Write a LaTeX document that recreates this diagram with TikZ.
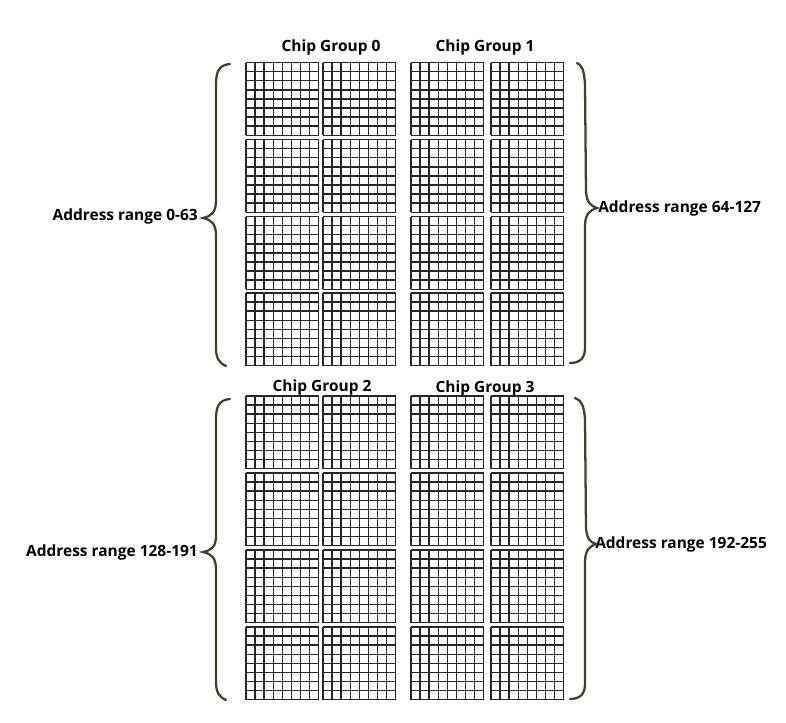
\documentclass[tikz,border=0pt]{standalone}
\usepackage{fontspec}
\setmainfont{Open Sans}
\definecolor{bracketgreen}{HTML}{3A4230}
\tikzset{
  chipline/.style={draw=black!85, line width=1.1pt, x=6.82pt, y=6.82pt},
  bracket/.style={draw=bracketgreen, line width=1.7pt, line cap=round},
  label/.style={font=\bfseries\fontsize{11.6pt}{13pt}\selectfont, inner sep=0pt},
  chip/.pic={\draw[chipline, step=1] (0,-8) grid (8,0);}
}
\begin{document}
\begin{tikzpicture}[x=0.75pt, y=-0.75pt]
    \useasboundingbox (0, 0) rectangle (786, 722);
    \node[label] (group0) at (331, 47) {Chip Group 0};
    \node[label] (group1) at (485, 47) {Chip Group 1};
    \node[label] (group2) at (322, 387) {Chip Group 2};
    \node[label] (group3) at (485, 388) {Chip Group 3};
    \node[label, anchor=east] (range0) at (198, 216) {Address range 0-63};
    \node[label, anchor=west] (range1) at (598, 208) {Address range 64-127};
    \node[label, anchor=east] (range2) at (198, 552) {Address range 128-191};
    \node[label, anchor=west] (range3) at (595, 544) {Address range 192-255};
    \foreach \xpos in {246, 323, 411, 491}
      \foreach \ypos in {62.5, 139.5, 216.5, 293, 396, 473, 550, 627}
        \pic at (\xpos, \ypos) {chip};
    \draw[bracket] (230, 64) .. controls (220, 65) and (216, 70) .. (216, 84)
      -- (216, 200) .. controls (216, 212) and (212, 216) .. (203, 218)
      .. controls (212, 220) and (216, 224) .. (216, 236)
      -- (216, 348) .. controls (216, 358) and (219, 363) .. (226, 366);
    \draw[bracket] (577, 63) .. controls (582, 65) and (584, 70) .. (585, 84)
      -- (586, 192) .. controls (587, 203) and (591, 206) .. (597, 208)
      .. controls (590, 210) and (585, 214) .. (585, 226)
      -- (585, 348) .. controls (585, 358) and (580, 363) .. (570, 363);
    \draw[bracket] (230, 399) .. controls (220, 400) and (216, 405) .. (216, 419)
      -- (216, 535) .. controls (216, 547) and (212, 550) .. (203, 552)
      .. controls (212, 554) and (216, 558) .. (216, 570)
      -- (216, 682) .. controls (216, 692) and (219, 697) .. (226, 700);
    \draw[bracket] (575, 398) .. controls (581, 400) and (584, 405) .. (585, 419)
      -- (586, 528) .. controls (587, 539) and (590, 542) .. (596, 544)
      .. controls (590, 546) and (585, 550) .. (585, 562)
      -- (585, 684) .. controls (585, 694) and (580, 699) .. (570, 699);
  \end{tikzpicture}
\end{document}
